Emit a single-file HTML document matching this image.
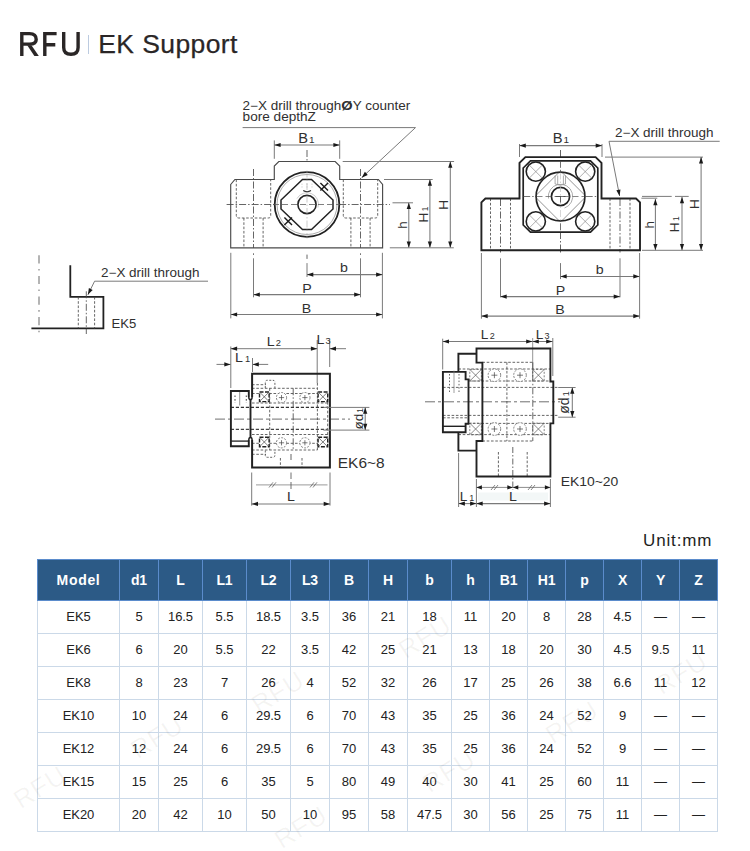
<!DOCTYPE html>
<html><head><meta charset="utf-8"><style>
html,body{margin:0;padding:0;background:#fff;}
body{width:750px;height:851px;position:relative;overflow:hidden;font-family:"Liberation Sans",sans-serif;}
#logo{position:absolute;left:0;top:0;}
#title{position:absolute;left:98.3px;top:27px;font-size:26.5px;letter-spacing:0.4px;color:#2a2626;line-height:34px;white-space:nowrap;-webkit-text-stroke:0.25px #2a2626;}
#draw{position:absolute;left:0;top:0;}
#draw text{font-family:"Liberation Sans",sans-serif;}
#unit{position:absolute;left:643px;top:531px;font-size:17px;color:#1e1e1e;letter-spacing:0.85px;line-height:20px;}
table{position:absolute;left:37px;top:559px;border-collapse:collapse;table-layout:fixed;width:681px;font-size:13px;color:#222;letter-spacing:-0.1px;}
th{background:#2c5a86;color:#fff;font-weight:bold;font-size:14px;height:39px;padding:0 0 1px 0;border:1px solid #5b8ccc;text-align:center;}
td{height:31px;padding:0 0 1px 0;border:1px solid #cbd9e8;text-align:center;}
.wm{position:absolute;width:60px;height:28px;line-height:28px;text-align:center;font-size:26px;color:rgba(90,70,50,0.06);transform:rotate(-32deg);letter-spacing:1px;}
</style></head><body>
<svg id="logo" width="250" height="70" viewBox="0 0 250 70">
<g fill="none" stroke="#2a2626" stroke-width="3.4" stroke-linejoin="miter">
<path d="M21.8,55.9 L21.8,33.6 L29.5,33.6 Q36.2,33.6 36.2,39.5 Q36.2,44.1 29.5,44.1 L22,44.1"/>
<path d="M27.2,45.2 L31.4,45.2 L38.8,55.9 L34.4,55.9 Z" fill="#2a2626" stroke="none"/>
<path d="M56.6,33.6 L44.8,33.6 L44.8,56 M44.8,44.7 L55.3,44.7"/>
<path d="M63.7,31.9 L63.7,47.5 Q63.7,54.3 71,54.3 Q78.1,54.3 78.1,47.5 L78.1,31.9"/>
</g>
<line x1="88.5" y1="35" x2="88.5" y2="54" stroke="#bccbe0" stroke-width="1"/>
</svg>
<div id="title">EK Support</div>
<svg id="draw" width="750" height="530" viewBox="0 0 750 530">
<text x="242.6" y="109.5" font-size="12" text-anchor="start" fill="#303030" textLength="167.7" lengthAdjust="spacingAndGlyphs" >2−X drill through<tspan font-size="13" font-weight="bold">Ø</tspan>Y counter</text>
<text x="242.6" y="120.7" font-size="12" text-anchor="start" fill="#303030" textLength="73.3" lengthAdjust="spacingAndGlyphs" >bore depthZ</text>
<line x1="242.6" y1="127.6" x2="415.5" y2="127.6" stroke="#7a7a7a" stroke-width="1.0"/>
<line x1="415.5" y1="127.6" x2="361.7" y2="177.7" stroke="#7a7a7a" stroke-width="1.0"/>
<path d="M361.7,177.7 L364.88,171.87 L367.74,174.94 Z" fill="#1a1a1a"/>
<line x1="274.3" y1="140.4" x2="274.3" y2="158.8" stroke="#7a7a7a" stroke-width="1.0"/>
<line x1="339.7" y1="140.4" x2="339.7" y2="158.8" stroke="#7a7a7a" stroke-width="1.0"/>
<line x1="274.3" y1="145" x2="339.7" y2="145" stroke="#7a7a7a" stroke-width="1.05"/>
<path d="M274.3,145 L280.6,142.9 L280.6,147.1 Z" fill="#1a1a1a"/>
<path d="M339.7,145 L333.4,147.1 L333.4,142.9 Z" fill="#1a1a1a"/>
<text transform="translate(306.3 142.7) scale(1.05 1)" font-size="14" text-anchor="middle" fill="#303030">B<tspan font-size="9.5" dx="0.9">1</tspan></text>
<path d="M236.3,179.5 L236.3,215.5 Q236.3,218 238.8,218 L268.2,218 Q270.7,218 270.7,215.5 L270.7,179.5" stroke="#4a4a4a" stroke-width="0.85" fill="none" stroke-dasharray="2.6 1.7" />
<line x1="243.9" y1="218" x2="243.9" y2="247.8" stroke="#4a4a4a" stroke-width="0.85" stroke-dasharray="2.6 1.7"/>
<line x1="263.1" y1="218" x2="263.1" y2="247.8" stroke="#4a4a4a" stroke-width="0.85" stroke-dasharray="2.6 1.7"/>
<line x1="253.5" y1="169" x2="253.5" y2="248" stroke="#4a4a4a" stroke-width="0.85" stroke-dasharray="7 2 1.5 2"/>
<line x1="253.5" y1="253.4" x2="253.5" y2="254.8" stroke="#555" stroke-width="1.0"/>
<line x1="253.5" y1="258.3" x2="253.5" y2="297.3" stroke="#7a7a7a" stroke-width="1.0"/>
<path d="M343.3,179.5 L343.3,215.5 Q343.3,218 345.8,218 L375.2,218 Q377.7,218 377.7,215.5 L377.7,179.5" stroke="#4a4a4a" stroke-width="0.85" fill="none" stroke-dasharray="2.6 1.7" />
<line x1="350.9" y1="218" x2="350.9" y2="247.8" stroke="#4a4a4a" stroke-width="0.85" stroke-dasharray="2.6 1.7"/>
<line x1="370.1" y1="218" x2="370.1" y2="247.8" stroke="#4a4a4a" stroke-width="0.85" stroke-dasharray="2.6 1.7"/>
<line x1="360.5" y1="169" x2="360.5" y2="248" stroke="#4a4a4a" stroke-width="0.85" stroke-dasharray="7 2 1.5 2"/>
<line x1="360.5" y1="253.4" x2="360.5" y2="254.8" stroke="#555" stroke-width="1.0"/>
<line x1="360.5" y1="258.3" x2="360.5" y2="297.3" stroke="#7a7a7a" stroke-width="1.0"/>
<line x1="226.6" y1="204.5" x2="390" y2="204.5" stroke="#4a4a4a" stroke-width="0.85" stroke-dasharray="7 2 1.5 2"/>
<line x1="307" y1="150" x2="307" y2="161" stroke="#4a4a4a" stroke-width="0.85" stroke-dasharray="7 2 1.5 2"/>
<line x1="307" y1="254.6" x2="307" y2="258.9" stroke="#666" stroke-width="1.0"/>
<line x1="307" y1="263.1" x2="307" y2="277" stroke="#7a7a7a" stroke-width="1.0"/>
<path d="M230.7,184.5 L234.9,179.5 L274.3,179.5 L274.3,166 L278.8,161.5 L335.2,161.5 L339.7,166 L339.7,179.5 L378.4,179.5 L382.6,184.5 L382.6,247.8 L230.7,247.8 Z" stroke="#4a4a4a" stroke-width="1.15" fill="none" />
<circle cx="307" cy="204.5" r="32.3" stroke="#222" stroke-width="1.8" fill="#fff"/>
<circle cx="307" cy="204.5" r="30.0" stroke="#777" stroke-width="0.6" fill="none"/>
<path d="M302.5,179.5 L311.5,179.5 L333,200.0 L333,209.0 L311.5,229.5 L302.5,229.5 L281,209.0 L281,200.0 Z" stroke="#222" stroke-width="1.5" fill="none" />
<path d="M297,198.5 A11.5,11.5 0 0 1 318,207.5" stroke="#aaa" stroke-width="0.6" fill="none" />
<path d="M303.2,190.5 Q307,193.0 311,190.5" stroke="#333" stroke-width="1.1" fill="none" />
<line x1="302" y1="183.5" x2="302" y2="188.5" stroke="#bbb" stroke-width="0.6" stroke-dasharray="1.5 1.2"/>
<line x1="307" y1="183.5" x2="307" y2="188.5" stroke="#bbb" stroke-width="0.6" stroke-dasharray="1.5 1.2"/>
<line x1="312" y1="183.5" x2="312" y2="188.5" stroke="#bbb" stroke-width="0.6" stroke-dasharray="1.5 1.2"/>
<circle cx="307" cy="204.5" r="9.1" stroke="#222" stroke-width="1.6" fill="none"/>
<line x1="273" y1="204.5" x2="341" y2="204.5" stroke="#555" stroke-width="0.75" stroke-dasharray="6 3"/>
<line x1="307" y1="170.5" x2="307" y2="238.5" stroke="#aaa" stroke-width="0.6" stroke-dasharray="7 2 1.5 2"/>
<line x1="320.4" y1="183" x2="328" y2="190.6" stroke="#1a1a1a" stroke-width="1.4"/>
<line x1="320.4" y1="190.6" x2="328" y2="183" stroke="#1a1a1a" stroke-width="1.4"/>
<line x1="284.4" y1="217.4" x2="292" y2="225" stroke="#1a1a1a" stroke-width="1.4"/>
<line x1="284.4" y1="225" x2="292" y2="217.4" stroke="#1a1a1a" stroke-width="1.4"/>
<line x1="342.7" y1="161.5" x2="454.1" y2="161.5" stroke="#7a7a7a" stroke-width="1.0"/>
<line x1="450.3" y1="161.5" x2="450.3" y2="247.8" stroke="#7a7a7a" stroke-width="1.05"/>
<path d="M450.3,161.5 L452.4,167.8 L448.2,167.8 Z" fill="#1a1a1a"/>
<path d="M450.3,247.8 L448.2,241.5 L452.4,241.5 Z" fill="#1a1a1a"/>
<text transform="translate(447.8 204.9) rotate(-90) scale(1.0 1)" font-size="13.5" text-anchor="middle" fill="#303030" >H</text>
<line x1="384" y1="179.5" x2="432.7" y2="179.5" stroke="#7a7a7a" stroke-width="1.0"/>
<line x1="429.9" y1="179.5" x2="429.9" y2="247.8" stroke="#7a7a7a" stroke-width="1.05"/>
<path d="M429.9,179.5 L432,185.8 L427.8,185.8 Z" fill="#1a1a1a"/>
<path d="M429.9,247.8 L427.8,241.5 L432,241.5 Z" fill="#1a1a1a"/>
<text transform="translate(427.8 214.6) rotate(-90) scale(1.0 1)" font-size="13.5" text-anchor="middle" fill="#303030">H<tspan font-size="8.4" dx="1.5">1</tspan></text>
<line x1="392.5" y1="202.8" x2="413" y2="202.8" stroke="#7a7a7a" stroke-width="1.0"/>
<line x1="408.8" y1="202.8" x2="408.8" y2="247.8" stroke="#7a7a7a" stroke-width="1.05"/>
<path d="M408.8,202.8 L410.9,209.1 L406.7,209.1 Z" fill="#1a1a1a"/>
<path d="M408.8,247.8 L406.7,241.5 L410.9,241.5 Z" fill="#1a1a1a"/>
<text transform="translate(406.8 225) rotate(-90) scale(1.0 1)" font-size="13.5" text-anchor="middle" fill="#303030" >h</text>
<line x1="389.8" y1="247.8" x2="453.8" y2="247.8" stroke="#7a7a7a" stroke-width="1.0"/>
<line x1="230.8" y1="252.8" x2="230.8" y2="318.4" stroke="#7a7a7a" stroke-width="1.0"/>
<line x1="382.4" y1="252.8" x2="382.4" y2="318.4" stroke="#7a7a7a" stroke-width="1.0"/>
<line x1="307" y1="274.6" x2="382.4" y2="274.6" stroke="#7a7a7a" stroke-width="1.05"/>
<path d="M307,274.6 L313.3,272.5 L313.3,276.7 Z" fill="#1a1a1a"/>
<path d="M382.4,274.6 L376.1,276.7 L376.1,272.5 Z" fill="#1a1a1a"/>
<text transform="translate(344 272.2) scale(1.05 1)" font-size="13.5" text-anchor="middle" fill="#303030" >b</text>
<line x1="253.5" y1="294.6" x2="360.5" y2="294.6" stroke="#7a7a7a" stroke-width="1.05"/>
<path d="M253.5,294.6 L259.8,292.5 L259.8,296.7 Z" fill="#1a1a1a"/>
<path d="M360.5,294.6 L354.2,296.7 L354.2,292.5 Z" fill="#1a1a1a"/>
<text transform="translate(307 292.7) scale(1.05 1)" font-size="13.5" text-anchor="middle" fill="#303030" >P</text>
<line x1="230.8" y1="314.5" x2="382.4" y2="314.5" stroke="#7a7a7a" stroke-width="1.05"/>
<path d="M230.8,314.5 L237.1,312.4 L237.1,316.6 Z" fill="#1a1a1a"/>
<path d="M382.4,314.5 L376.1,316.6 L376.1,312.4 Z" fill="#1a1a1a"/>
<text transform="translate(306.4 312.8) scale(1.05 1)" font-size="13.5" text-anchor="middle" fill="#303030" >B</text>
<text x="615" y="137" font-size="12" text-anchor="start" fill="#303030" textLength="98.6" lengthAdjust="spacingAndGlyphs" >2−X drill through</text>
<line x1="609" y1="141.3" x2="719.7" y2="141.3" stroke="#7a7a7a" stroke-width="1.0"/>
<line x1="609" y1="141.3" x2="619.6" y2="196" stroke="#7a7a7a" stroke-width="1.0"/>
<path d="M619.6,196 L616.35,190.21 L620.47,189.42 Z" fill="#1a1a1a"/>
<line x1="519.5" y1="144" x2="519.5" y2="157" stroke="#7a7a7a" stroke-width="1.0"/>
<line x1="602" y1="144" x2="602" y2="157" stroke="#7a7a7a" stroke-width="1.0"/>
<line x1="519.5" y1="145.6" x2="602" y2="145.6" stroke="#7a7a7a" stroke-width="1.05"/>
<path d="M519.5,145.6 L525.8,143.5 L525.8,147.7 Z" fill="#1a1a1a"/>
<path d="M602,145.6 L595.7,147.7 L595.7,143.5 Z" fill="#1a1a1a"/>
<text transform="translate(560.8 142.8) scale(1.05 1)" font-size="14" text-anchor="middle" fill="#303030">B<tspan font-size="9.5" dx="0.9">1</tspan></text>
<line x1="490.5" y1="198.5" x2="490.5" y2="250.3" stroke="#4a4a4a" stroke-width="0.85" stroke-dasharray="2.6 1.7"/>
<line x1="510.5" y1="198.5" x2="510.5" y2="250.3" stroke="#4a4a4a" stroke-width="0.85" stroke-dasharray="2.6 1.7"/>
<line x1="500.5" y1="199" x2="500.5" y2="250" stroke="#4a4a4a" stroke-width="0.85" stroke-dasharray="7 2 1.5 2"/>
<line x1="500.5" y1="251" x2="500.5" y2="252.5" stroke="#666" stroke-width="1.0"/>
<line x1="500.5" y1="258.3" x2="500.5" y2="297.3" stroke="#7a7a7a" stroke-width="1.0"/>
<line x1="610" y1="198.5" x2="610" y2="250.3" stroke="#4a4a4a" stroke-width="0.85" stroke-dasharray="2.6 1.7"/>
<line x1="630" y1="198.5" x2="630" y2="250.3" stroke="#4a4a4a" stroke-width="0.85" stroke-dasharray="2.6 1.7"/>
<line x1="620" y1="199" x2="620" y2="250" stroke="#4a4a4a" stroke-width="0.85" stroke-dasharray="7 2 1.5 2"/>
<line x1="620" y1="251" x2="620" y2="252.5" stroke="#666" stroke-width="1.0"/>
<line x1="620" y1="258.3" x2="620" y2="297.3" stroke="#7a7a7a" stroke-width="1.0"/>
<line x1="560.5" y1="150" x2="560.5" y2="157" stroke="#4a4a4a" stroke-width="0.85" stroke-dasharray="7 2 1.5 2"/>
<line x1="560.5" y1="232" x2="560.5" y2="250" stroke="#4a4a4a" stroke-width="0.85" stroke-dasharray="7 2 1.5 2"/>
<line x1="560.5" y1="251" x2="560.5" y2="252.5" stroke="#666" stroke-width="1.0"/>
<line x1="560.5" y1="263.1" x2="560.5" y2="279.1" stroke="#7a7a7a" stroke-width="1.0"/>
<path d="M481.4,202.4 L485.4,198.5 L519.5,198.5 L519.5,162.9 L525.4,157.1 L595.6,157.1 L601.5,162.9 L601.5,198.5 L636,198.5 L640,202.4 L640,250.3 L481.4,250.3 Z" stroke="#222" stroke-width="1.9" fill="none" />
<path d="M530.5,160.8 L590.5,160.8 L597.8,168 L597.8,225 L590.5,232.2 L530.5,232.2 L523.2,225 L523.2,168 Z" stroke="#222" stroke-width="1.7" fill="none" />
<line x1="523.2" y1="196.5" x2="597.8" y2="196.5" stroke="#444" stroke-width="0.75" stroke-dasharray="7 2 1.5 2"/>
<line x1="560.5" y1="160.8" x2="560.5" y2="232.2" stroke="#444" stroke-width="0.75" stroke-dasharray="7 2 1.5 2"/>
<circle cx="535.8" cy="171.6" r="9.6" stroke="#222" stroke-width="1.6" fill="#fff"/>
<line x1="529.2" y1="165" x2="542.4" y2="178.2" stroke="#777" stroke-width="0.6"/>
<line x1="529.2" y1="178.2" x2="542.4" y2="165" stroke="#777" stroke-width="0.6"/>
<circle cx="535.8" cy="221.4" r="9.6" stroke="#222" stroke-width="1.6" fill="#fff"/>
<line x1="529.2" y1="214.8" x2="542.4" y2="228" stroke="#777" stroke-width="0.6"/>
<line x1="529.2" y1="228" x2="542.4" y2="214.8" stroke="#777" stroke-width="0.6"/>
<circle cx="585.2" cy="171.6" r="9.6" stroke="#222" stroke-width="1.6" fill="#fff"/>
<line x1="578.6" y1="165" x2="591.8" y2="178.2" stroke="#777" stroke-width="0.6"/>
<line x1="578.6" y1="178.2" x2="591.8" y2="165" stroke="#777" stroke-width="0.6"/>
<circle cx="585.2" cy="221.4" r="9.6" stroke="#222" stroke-width="1.6" fill="#fff"/>
<line x1="578.6" y1="214.8" x2="591.8" y2="228" stroke="#777" stroke-width="0.6"/>
<line x1="578.6" y1="228" x2="591.8" y2="214.8" stroke="#777" stroke-width="0.6"/>
<circle cx="560.5" cy="196.5" r="24.4" stroke="#222" stroke-width="1.7" fill="#fff"/>
<clipPath id="cc2"><circle cx="560.5" cy="196.5" r="24"/></clipPath>
<path d="M560.5,170.9 L586.1,196.5 L560.5,222.1 L534.9,196.5 Z" stroke="#666" stroke-width="0.7" fill="none" clip-path="url(#cc2)"/>
<path d="M548.5,198.5 A12.2,12.2 0 1 1 564.5,208.0" stroke="#888" stroke-width="0.7" fill="none" />
<line x1="555.1" y1="175.5" x2="555.1" y2="184" stroke="#888" stroke-width="0.7"/>
<line x1="557.7" y1="175.5" x2="557.7" y2="184" stroke="#888" stroke-width="0.7"/>
<line x1="563.4" y1="175.5" x2="563.4" y2="184" stroke="#888" stroke-width="0.7"/>
<line x1="565.5" y1="175.5" x2="565.5" y2="184" stroke="#888" stroke-width="0.7"/>
<path d="M555.1,184.0 Q560.5,186.5 565.5,184.0" stroke="#888" stroke-width="0.7" fill="none" />
<circle cx="560.5" cy="196.5" r="9.1" stroke="#222" stroke-width="1.7" fill="none"/>
<line x1="536.5" y1="196.5" x2="584.5" y2="196.5" stroke="#555" stroke-width="0.7" stroke-dasharray="6 3"/>
<line x1="560.5" y1="172.5" x2="560.5" y2="220.5" stroke="#bbb" stroke-width="0.6" stroke-dasharray="7 2 1.5 2"/>
<line x1="555.5" y1="196.5" x2="565.5" y2="196.5" stroke="#333" stroke-width="0.7"/>
<line x1="560.5" y1="196.5" x2="560.5" y2="202.5" stroke="#333" stroke-width="0.7"/>
<line x1="605" y1="157.1" x2="703" y2="157.1" stroke="#7a7a7a" stroke-width="1.0"/>
<line x1="701.1" y1="157.1" x2="701.1" y2="250.3" stroke="#7a7a7a" stroke-width="1.05"/>
<path d="M701.1,157.1 L703.2,163.4 L699,163.4 Z" fill="#1a1a1a"/>
<path d="M701.1,250.3 L699,244 L703.2,244 Z" fill="#1a1a1a"/>
<text transform="translate(699 204) rotate(-90) scale(1.0 1)" font-size="13.5" text-anchor="middle" fill="#303030" >H</text>
<line x1="642" y1="196.4" x2="671.7" y2="196.4" stroke="#7a7a7a" stroke-width="1.0"/>
<line x1="675" y1="196.4" x2="688.7" y2="196.4" stroke="#7a7a7a" stroke-width="1.0"/>
<line x1="641.4" y1="198.2" x2="657.3" y2="198.2" stroke="#7a7a7a" stroke-width="1.0"/>
<line x1="682" y1="197" x2="682" y2="250.3" stroke="#7a7a7a" stroke-width="1.05"/>
<path d="M682,197 L684.1,203.3 L679.9,203.3 Z" fill="#1a1a1a"/>
<path d="M682,250.3 L679.9,244 L684.1,244 Z" fill="#1a1a1a"/>
<text transform="translate(678.7 224.2) rotate(-90) scale(1.0 1)" font-size="13.5" text-anchor="middle" fill="#303030">H<tspan font-size="8.4" dx="1.5">1</tspan></text>
<line x1="655.4" y1="198.9" x2="655.4" y2="250.3" stroke="#7a7a7a" stroke-width="1.05"/>
<path d="M655.4,198.9 L657.5,205.2 L653.3,205.2 Z" fill="#1a1a1a"/>
<path d="M655.4,250.3 L653.3,244 L657.5,244 Z" fill="#1a1a1a"/>
<text transform="translate(654 224.8) rotate(-90) scale(1.0 1)" font-size="13.5" text-anchor="middle" fill="#303030" >h</text>
<line x1="642" y1="250.3" x2="703" y2="250.3" stroke="#7a7a7a" stroke-width="1.0"/>
<line x1="481.4" y1="253" x2="481.4" y2="318.7" stroke="#7a7a7a" stroke-width="1.0"/>
<line x1="639.6" y1="253" x2="639.6" y2="318.7" stroke="#7a7a7a" stroke-width="1.0"/>
<line x1="560.4" y1="276.4" x2="639.6" y2="276.4" stroke="#7a7a7a" stroke-width="1.05"/>
<path d="M560.4,276.4 L566.7,274.3 L566.7,278.5 Z" fill="#1a1a1a"/>
<path d="M639.6,276.4 L633.3,278.5 L633.3,274.3 Z" fill="#1a1a1a"/>
<text transform="translate(599.7 273.6) scale(1.05 1)" font-size="13.5" text-anchor="middle" fill="#303030" >b</text>
<line x1="500.4" y1="296.6" x2="620" y2="296.6" stroke="#7a7a7a" stroke-width="1.05"/>
<path d="M500.4,296.6 L506.7,294.5 L506.7,298.7 Z" fill="#1a1a1a"/>
<path d="M620,296.6 L613.7,298.7 L613.7,294.5 Z" fill="#1a1a1a"/>
<text transform="translate(560.4 294.6) scale(1.05 1)" font-size="13.5" text-anchor="middle" fill="#303030" >P</text>
<line x1="481.4" y1="316.1" x2="639.6" y2="316.1" stroke="#7a7a7a" stroke-width="1.05"/>
<path d="M481.4,316.1 L487.7,314 L487.7,318.2 Z" fill="#1a1a1a"/>
<path d="M639.6,316.1 L633.3,318.2 L633.3,314 Z" fill="#1a1a1a"/>
<text transform="translate(560 314.4) scale(1.05 1)" font-size="13.5" text-anchor="middle" fill="#303030" >B</text>
<line x1="39" y1="255.3" x2="39" y2="333.5" stroke="#777" stroke-width="1.1" stroke-dasharray="8.2 5.4 1.6 5.4"/>
<path d="M70.3,265.2 L70.3,296.9 L103.4,296.9 L103.4,328.4 L31.4,328.4" stroke="#222" stroke-width="1.8" fill="none" />
<line x1="78.3" y1="296.9" x2="78.3" y2="328.4" stroke="#4a4a4a" stroke-width="0.85" stroke-dasharray="2.6 1.7"/>
<line x1="94.6" y1="296.9" x2="94.6" y2="328.4" stroke="#4a4a4a" stroke-width="0.85" stroke-dasharray="2.6 1.7"/>
<line x1="86.3" y1="291.3" x2="86.3" y2="334" stroke="#4a4a4a" stroke-width="0.85" stroke-dasharray="7 2 1.5 2"/>
<line x1="94.6" y1="281.2" x2="208" y2="281.2" stroke="#7a7a7a" stroke-width="1.0"/>
<line x1="94.6" y1="281.2" x2="87.9" y2="294.8" stroke="#7a7a7a" stroke-width="1.0"/>
<path d="M87.9,294.8 L88.89,288.04 L92.66,289.9 Z" fill="#1a1a1a"/>
<text x="101" y="277.2" font-size="12" text-anchor="start" fill="#303030" textLength="98.6" lengthAdjust="spacingAndGlyphs" >2−X drill through</text>
<text x="111.4" y="327.9" font-size="12.3" text-anchor="start" fill="#303030" textLength="24.8" lengthAdjust="spacingAndGlyphs" >EK5</text>
<line x1="230.8" y1="346.5" x2="230.8" y2="388" stroke="#7a7a7a" stroke-width="1.0"/>
<line x1="317.2" y1="340" x2="317.2" y2="383" stroke="#7a7a7a" stroke-width="1.0"/>
<line x1="329.7" y1="340" x2="329.7" y2="367" stroke="#7a7a7a" stroke-width="1.0"/>
<line x1="230.8" y1="348.7" x2="317.2" y2="348.7" stroke="#7a7a7a" stroke-width="1.0"/>
<path d="M230.8,348.7 L237.1,346.6 L237.1,350.8 Z" fill="#1a1a1a"/>
<path d="M317.2,348.7 L310.9,350.8 L310.9,346.6 Z" fill="#1a1a1a"/>
<line x1="329.7" y1="348.7" x2="346" y2="348.7" stroke="#7a7a7a" stroke-width="1.0"/>
<path d="M329.7,348.7 L336,346.6 L336,350.8 Z" fill="#1a1a1a"/>
<text transform="translate(273.8 345.7) scale(1.05 1)" font-size="13.5" text-anchor="middle" fill="#303030">L<tspan font-size="8.9" dx="1.2">2</tspan></text>
<text transform="translate(323.6 344.4) scale(1.05 1)" font-size="13.5" text-anchor="middle" fill="#303030">L<tspan font-size="8.9" dx="1.2">3</tspan></text>
<line x1="216.5" y1="364.4" x2="230.6" y2="364.4" stroke="#7a7a7a" stroke-width="1.0"/>
<path d="M230.6,364.4 L224.3,366.5 L224.3,362.3 Z" fill="#1a1a1a"/>
<line x1="252.5" y1="364.4" x2="268.2" y2="364.4" stroke="#7a7a7a" stroke-width="1.0"/>
<path d="M252.5,364.4 L258.8,362.3 L258.8,366.5 Z" fill="#1a1a1a"/>
<line x1="252.5" y1="358" x2="252.5" y2="372" stroke="#7a7a7a" stroke-width="1.0"/>
<text transform="translate(242.6 362) scale(1.05 1)" font-size="13.5" text-anchor="middle" fill="#303030">L<tspan font-size="8.9" dx="2.2">1</tspan></text>
<line x1="252" y1="384.7" x2="266" y2="384.7" stroke="#4a4a4a" stroke-width="0.85" stroke-dasharray="2.6 1.7"/>
<line x1="252" y1="388.3" x2="317.4" y2="388.3" stroke="#4a4a4a" stroke-width="0.85" stroke-dasharray="2.6 1.7"/>
<line x1="252" y1="393.5" x2="327.7" y2="393.5" stroke="#4a4a4a" stroke-width="0.85" stroke-dasharray="2.6 1.7"/>
<line x1="252" y1="403" x2="327.7" y2="403" stroke="#4a4a4a" stroke-width="0.85" stroke-dasharray="2.6 1.7"/>
<line x1="230.8" y1="407.4" x2="327.7" y2="407.4" stroke="#333" stroke-width="1.2" stroke-dasharray="3.2 1.8"/>
<line x1="215" y1="419.1" x2="350" y2="419.1" stroke="#555" stroke-width="0.85" stroke-dasharray="10 3 3 3"/>
<line x1="230.8" y1="429.4" x2="327.7" y2="429.4" stroke="#444" stroke-width="1.2" stroke-dasharray="3.2 1.8"/>
<line x1="252" y1="434.5" x2="327.7" y2="434.5" stroke="#4a4a4a" stroke-width="0.85" stroke-dasharray="2.6 1.7"/>
<line x1="252" y1="443.3" x2="327.7" y2="443.3" stroke="#4a4a4a" stroke-width="0.85" stroke-dasharray="2.6 1.7"/>
<line x1="252" y1="450" x2="317.4" y2="450" stroke="#4a4a4a" stroke-width="0.85" stroke-dasharray="2.6 1.7"/>
<line x1="252" y1="454.3" x2="266" y2="454.3" stroke="#4a4a4a" stroke-width="0.85" stroke-dasharray="2.6 1.7"/>
<line x1="269.7" y1="388.3" x2="269.7" y2="450" stroke="#4a4a4a" stroke-width="0.85" stroke-dasharray="2.6 1.7"/>
<line x1="293.2" y1="388.3" x2="293.2" y2="450" stroke="#4a4a4a" stroke-width="0.85" stroke-dasharray="7 2 1.5 2"/>
<line x1="317.4" y1="383" x2="317.4" y2="450" stroke="#4a4a4a" stroke-width="0.85" stroke-dasharray="2.6 1.7"/>
<line x1="327.7" y1="393.5" x2="327.7" y2="443.3" stroke="#4a4a4a" stroke-width="0.85" stroke-dasharray="2.6 1.7"/>
<path d="M265.3,388 L265.3,382.3 Q265.3,380.3 267.3,380.3 L272.9,380.3 Q274.9,380.3 274.9,382.3 L274.9,388" stroke="#4a4a4a" stroke-width="0.85" fill="none" stroke-dasharray="2 1.5" />
<path d="M265.3,450.5 L265.3,455.3 Q265.3,457.3 267.3,457.3 L272.9,457.3 Q274.9,457.3 274.9,455.3 L274.9,450.5" stroke="#4a4a4a" stroke-width="0.85" fill="none" stroke-dasharray="2 1.5" />
<rect x="259.5" y="392" width="9.6" height="9.6" fill="#fff" stroke="#222" stroke-width="1.4" stroke-dasharray="4 1.5"/>
<line x1="260.3" y1="392.8" x2="268.3" y2="400.8" stroke="#444" stroke-width="0.7"/>
<line x1="260.3" y1="400.8" x2="268.3" y2="392.8" stroke="#444" stroke-width="0.7"/>
<rect x="318.1" y="392" width="9.6" height="9.6" fill="#fff" stroke="#222" stroke-width="1.4" stroke-dasharray="4 1.5"/>
<line x1="318.9" y1="392.8" x2="326.9" y2="400.8" stroke="#444" stroke-width="0.7"/>
<line x1="318.9" y1="400.8" x2="326.9" y2="392.8" stroke="#444" stroke-width="0.7"/>
<circle cx="281.5" cy="397.6" r="5.1" stroke="#666" stroke-width="0.8" fill="#fff" stroke-dasharray="2 1.3"/>
<line x1="278.9" y1="397.6" x2="284.1" y2="397.6" stroke="#444" stroke-width="0.7"/>
<line x1="281.5" y1="395" x2="281.5" y2="400.2" stroke="#444" stroke-width="0.7"/>
<circle cx="304.9" cy="397.6" r="5.1" stroke="#666" stroke-width="0.8" fill="#fff" stroke-dasharray="2 1.3"/>
<line x1="302.3" y1="397.6" x2="307.5" y2="397.6" stroke="#444" stroke-width="0.7"/>
<line x1="304.9" y1="395" x2="304.9" y2="400.2" stroke="#444" stroke-width="0.7"/>
<rect x="259.5" y="437.2" width="9.6" height="9.6" fill="#fff" stroke="#222" stroke-width="1.4" stroke-dasharray="4 1.5"/>
<line x1="260.3" y1="438" x2="268.3" y2="446" stroke="#444" stroke-width="0.7"/>
<line x1="260.3" y1="446" x2="268.3" y2="438" stroke="#444" stroke-width="0.7"/>
<rect x="318.1" y="437.2" width="9.6" height="9.6" fill="#fff" stroke="#222" stroke-width="1.4" stroke-dasharray="4 1.5"/>
<line x1="318.9" y1="438" x2="326.9" y2="446" stroke="#444" stroke-width="0.7"/>
<line x1="318.9" y1="446" x2="326.9" y2="438" stroke="#444" stroke-width="0.7"/>
<circle cx="281.5" cy="442.8" r="5.1" stroke="#666" stroke-width="0.8" fill="#fff" stroke-dasharray="2 1.3"/>
<line x1="278.9" y1="442.8" x2="284.1" y2="442.8" stroke="#444" stroke-width="0.7"/>
<line x1="281.5" y1="440.2" x2="281.5" y2="445.4" stroke="#444" stroke-width="0.7"/>
<circle cx="304.9" cy="442.8" r="5.1" stroke="#666" stroke-width="0.8" fill="#fff" stroke-dasharray="2 1.3"/>
<line x1="302.3" y1="442.8" x2="307.5" y2="442.8" stroke="#444" stroke-width="0.7"/>
<line x1="304.9" y1="440.2" x2="304.9" y2="445.4" stroke="#444" stroke-width="0.7"/>
<line x1="280.4" y1="458" x2="280.4" y2="467" stroke="#4a4a4a" stroke-width="0.85" stroke-dasharray="2.6 1.7"/>
<line x1="302" y1="458" x2="302" y2="467" stroke="#4a4a4a" stroke-width="0.85" stroke-dasharray="2.6 1.7"/>
<line x1="291" y1="454" x2="291" y2="460" stroke="#4a4a4a" stroke-width="0.85"/>
<path d="M252.1,397 L252.1,373.8 L329.9,373.8 L329.9,467.6 L252.1,467.6 L252.1,440" stroke="#222" stroke-width="2.0" fill="none" />
<path d="M248.8,397 L248.8,391 L230.9,391 L230.9,446.3 L248.8,446.3 L248.8,440" stroke="#222" stroke-width="1.9" fill="none" />
<path d="M248.8,397 Q248.8,399.6 250.5,399.6 Q252.1,399.6 252.1,397" stroke="#222" stroke-width="1.5" fill="none" />
<path d="M248.8,440 Q248.8,437.4 250.5,437.4 Q252.1,437.4 252.1,440" stroke="#222" stroke-width="1.5" fill="none" />
<line x1="250.5" y1="399.6" x2="250.5" y2="437.4" stroke="#222" stroke-width="1.9"/>
<line x1="230.9" y1="441.1" x2="248.6" y2="441.1" stroke="#222" stroke-width="1.3"/>
<line x1="239.7" y1="392" x2="239.7" y2="405.5" stroke="#666" stroke-width="0.7"/>
<line x1="235" y1="395.5" x2="235" y2="403" stroke="#555" stroke-width="1.1" stroke-dasharray="1.6 2"/>
<line x1="246.3" y1="395.5" x2="246.3" y2="403" stroke="#555" stroke-width="1.1" stroke-dasharray="1.6 2"/>
<line x1="323.4" y1="407.4" x2="369.4" y2="407.4" stroke="#7a7a7a" stroke-width="1.0"/>
<line x1="323.4" y1="430.1" x2="369.4" y2="430.1" stroke="#7a7a7a" stroke-width="1.0"/>
<line x1="365.2" y1="407.4" x2="365.2" y2="430.1" stroke="#7a7a7a" stroke-width="1.05"/>
<path d="M365.2,407.4 L367.3,413.7 L363.1,413.7 Z" fill="#1a1a1a"/>
<path d="M365.2,430.1 L363.1,423.8 L367.3,423.8 Z" fill="#1a1a1a"/>
<text transform="translate(363.2 418.8) rotate(-90) scale(1.0 1)" font-size="13.5" text-anchor="middle" fill="#303030">ød<tspan font-size="8.4" dx="1.0">1</tspan></text>
<line x1="251.7" y1="472.5" x2="251.7" y2="505.6" stroke="#7a7a7a" stroke-width="1.0"/>
<line x1="330" y1="472.5" x2="330" y2="505.6" stroke="#7a7a7a" stroke-width="1.0"/>
<line x1="256" y1="484.9" x2="327.5" y2="484.9" stroke="#888" stroke-width="0.85"/>
<line x1="269" y1="487.5" x2="273" y2="482.3" stroke="#555" stroke-width="0.7"/>
<line x1="272" y1="487.5" x2="276" y2="482.3" stroke="#555" stroke-width="0.7"/>
<line x1="310" y1="487.5" x2="314" y2="482.3" stroke="#555" stroke-width="0.7"/>
<line x1="313" y1="487.5" x2="317" y2="482.3" stroke="#555" stroke-width="0.7"/>
<line x1="291" y1="472.5" x2="291" y2="479" stroke="#555" stroke-width="0.85"/>
<line x1="291" y1="482" x2="291" y2="489" stroke="#555" stroke-width="0.85"/>
<line x1="251.7" y1="503.9" x2="330" y2="503.9" stroke="#7a7a7a" stroke-width="1.05"/>
<path d="M251.7,503.9 L258,501.8 L258,506 Z" fill="#1a1a1a"/>
<path d="M330,503.9 L323.7,506 L323.7,501.8 Z" fill="#1a1a1a"/>
<text transform="translate(291 500.8) scale(1.05 1)" font-size="13.5" text-anchor="middle" fill="#303030" >L</text>
<text x="337.8" y="467.5" font-size="15" text-anchor="start" fill="#303030" textLength="46.8" lengthAdjust="spacingAndGlyphs" >EK6~8</text>
<line x1="442.7" y1="338.7" x2="442.7" y2="369.5" stroke="#7a7a7a" stroke-width="1.0"/>
<line x1="532.7" y1="338" x2="532.7" y2="376" stroke="#777" stroke-width="0.8"/>
<line x1="552.8" y1="338" x2="552.8" y2="376" stroke="#7a7a7a" stroke-width="1.0"/>
<line x1="442.7" y1="341.5" x2="552.8" y2="341.5" stroke="#7a7a7a" stroke-width="1.0"/>
<path d="M442.7,341.5 L449,339.4 L449,343.6 Z" fill="#1a1a1a"/>
<path d="M532.5,341.5 L526.2,343.6 L526.2,339.4 Z" fill="#1a1a1a"/>
<path d="M532.5,341.5 L538.8,339.4 L538.8,343.6 Z" fill="#1a1a1a"/>
<path d="M552.5,341.5 L546.2,343.6 L546.2,339.4 Z" fill="#1a1a1a"/>
<text transform="translate(487.8 338.9) scale(1.05 1)" font-size="13" text-anchor="middle" fill="#303030">L<tspan font-size="8.6" dx="1.2">2</tspan></text>
<text transform="translate(542.7 338.9) scale(1.05 1)" font-size="13" text-anchor="middle" fill="#303030">L<tspan font-size="8.6" dx="1.2">3</tspan></text>
<line x1="482.4" y1="362.3" x2="532.8" y2="362.3" stroke="#4a4a4a" stroke-width="0.85" stroke-dasharray="2.6 1.7"/>
<line x1="458.4" y1="369" x2="550.4" y2="369" stroke="#4a4a4a" stroke-width="0.85" stroke-dasharray="2.6 1.7"/>
<line x1="468.5" y1="381" x2="550.4" y2="381" stroke="#4a4a4a" stroke-width="0.85" stroke-dasharray="2.6 1.7"/>
<line x1="443" y1="387.4" x2="558" y2="387.4" stroke="#4a4a4a" stroke-width="0.85" stroke-dasharray="2.6 1.7"/>
<line x1="425" y1="401.8" x2="560" y2="401.8" stroke="#555" stroke-width="0.85" stroke-dasharray="10 3 3 3"/>
<line x1="443" y1="415.4" x2="558" y2="415.4" stroke="#4a4a4a" stroke-width="0.85" stroke-dasharray="2.6 1.7"/>
<line x1="443" y1="417.8" x2="468" y2="417.8" stroke="#4a4a4a" stroke-width="0.85" stroke-dasharray="2.6 1.7"/>
<line x1="468.5" y1="423.4" x2="550.4" y2="423.4" stroke="#4a4a4a" stroke-width="0.85" stroke-dasharray="2.6 1.7"/>
<line x1="458.4" y1="434.6" x2="550.4" y2="434.6" stroke="#4a4a4a" stroke-width="0.85" stroke-dasharray="2.6 1.7"/>
<line x1="482.4" y1="441" x2="532.8" y2="441" stroke="#4a4a4a" stroke-width="0.85" stroke-dasharray="2.6 1.7"/>
<line x1="506.9" y1="362.3" x2="506.9" y2="441" stroke="#4a4a4a" stroke-width="0.85" stroke-dasharray="2.6 1.7"/>
<line x1="532.8" y1="362.3" x2="532.8" y2="441" stroke="#4a4a4a" stroke-width="0.85" stroke-dasharray="7 2 1.5 2"/>
<rect x="469.8" y="369.4" width="11.6" height="11.6" fill="none" stroke="#666" stroke-width="0.8" stroke-dasharray="2 1.5"/>
<line x1="470.1" y1="369.7" x2="481.1" y2="380.7" stroke="#555" stroke-width="0.7"/>
<line x1="470.1" y1="380.7" x2="481.1" y2="369.7" stroke="#555" stroke-width="0.7"/>
<rect x="532.6" y="369.4" width="11.6" height="11.6" fill="none" stroke="#666" stroke-width="0.8" stroke-dasharray="2 1.5"/>
<line x1="532.9" y1="369.7" x2="543.9" y2="380.7" stroke="#555" stroke-width="0.7"/>
<line x1="532.9" y1="380.7" x2="543.9" y2="369.7" stroke="#555" stroke-width="0.7"/>
<circle cx="494.4" cy="375.2" r="6.3" stroke="#666" stroke-width="0.8" fill="#fff" stroke-dasharray="2 1.3"/>
<line x1="491.4" y1="375.2" x2="497.4" y2="375.2" stroke="#444" stroke-width="0.7"/>
<line x1="494.4" y1="372.2" x2="494.4" y2="378.2" stroke="#444" stroke-width="0.7"/>
<circle cx="520" cy="375.2" r="6.3" stroke="#666" stroke-width="0.8" fill="#fff" stroke-dasharray="2 1.3"/>
<line x1="517" y1="375.2" x2="523" y2="375.2" stroke="#444" stroke-width="0.7"/>
<line x1="520" y1="372.2" x2="520" y2="378.2" stroke="#444" stroke-width="0.7"/>
<rect x="469.8" y="423.2" width="11.6" height="11.6" fill="none" stroke="#666" stroke-width="0.8" stroke-dasharray="2 1.5"/>
<line x1="470.1" y1="423.5" x2="481.1" y2="434.5" stroke="#555" stroke-width="0.7"/>
<line x1="470.1" y1="434.5" x2="481.1" y2="423.5" stroke="#555" stroke-width="0.7"/>
<rect x="532.6" y="423.2" width="11.6" height="11.6" fill="none" stroke="#666" stroke-width="0.8" stroke-dasharray="2 1.5"/>
<line x1="532.9" y1="423.5" x2="543.9" y2="434.5" stroke="#555" stroke-width="0.7"/>
<line x1="532.9" y1="434.5" x2="543.9" y2="423.5" stroke="#555" stroke-width="0.7"/>
<circle cx="494.4" cy="429" r="6.3" stroke="#666" stroke-width="0.8" fill="#fff" stroke-dasharray="2 1.3"/>
<line x1="491.4" y1="429" x2="497.4" y2="429" stroke="#444" stroke-width="0.7"/>
<line x1="494.4" y1="426" x2="494.4" y2="432" stroke="#444" stroke-width="0.7"/>
<circle cx="520" cy="429" r="6.3" stroke="#666" stroke-width="0.8" fill="#fff" stroke-dasharray="2 1.3"/>
<line x1="517" y1="429" x2="523" y2="429" stroke="#444" stroke-width="0.7"/>
<line x1="520" y1="426" x2="520" y2="432" stroke="#444" stroke-width="0.7"/>
<line x1="498.4" y1="452" x2="498.4" y2="476" stroke="#4a4a4a" stroke-width="0.85" stroke-dasharray="2.6 1.7"/>
<line x1="527.2" y1="452" x2="527.2" y2="476" stroke="#4a4a4a" stroke-width="0.85" stroke-dasharray="2.6 1.7"/>
<line x1="512.8" y1="447" x2="512.8" y2="490" stroke="#4a4a4a" stroke-width="0.85" stroke-dasharray="6 2 1.5 2"/>
<path d="M476.5,362.6 L476.5,348.5 L550.4,348.5 L550.4,381.5 L553.3,381.5 L553.3,423.4 L550.4,423.4 L550.4,476.5 L476.5,476.5 L476.5,441 L482.4,441 L482.4,362.6 Z" stroke="#222" stroke-width="1.9" fill="none" />
<path d="M476.5,353.8 L458.4,353.8 L458.4,372 M458.4,432 L458.4,450.6 L476.5,450.6" stroke="#222" stroke-width="1.9" fill="none" />
<path d="M442.9,371.9 L465.6,371.9 L465.6,379.4 L468.5,379.4 L468.5,423.7 L465.6,423.7 L465.6,432.2 L442.9,432.2 Z" stroke="#222" stroke-width="1.9" fill="none" />
<line x1="442.9" y1="426.3" x2="465.6" y2="426.3" stroke="#222" stroke-width="1.4"/>
<line x1="449.5" y1="374" x2="449.5" y2="392" stroke="#666" stroke-width="1.0" stroke-dasharray="1.5 1.8"/>
<line x1="459" y1="374" x2="459" y2="392" stroke="#666" stroke-width="1.0" stroke-dasharray="1.5 1.8"/>
<line x1="454" y1="370.6" x2="454" y2="393" stroke="#777" stroke-width="0.7"/>
<line x1="558.2" y1="387.5" x2="575.6" y2="387.5" stroke="#7a7a7a" stroke-width="1.0"/>
<line x1="558.2" y1="417.2" x2="575.6" y2="417.2" stroke="#7a7a7a" stroke-width="1.0"/>
<line x1="572.3" y1="387.5" x2="572.3" y2="417.2" stroke="#7a7a7a" stroke-width="1.05"/>
<path d="M572.3,387.5 L574.4,393.8 L570.2,393.8 Z" fill="#1a1a1a"/>
<path d="M572.3,417.2 L570.2,410.9 L574.4,410.9 Z" fill="#1a1a1a"/>
<text transform="translate(569 402.6) rotate(-90) scale(1.0 1)" font-size="14" text-anchor="middle" fill="#303030">ød<tspan font-size="8.7" dx="1.0">1</tspan></text>
<line x1="458.6" y1="453" x2="458.6" y2="507" stroke="#7a7a7a" stroke-width="1.0"/>
<line x1="476.4" y1="479" x2="476.4" y2="507" stroke="#7a7a7a" stroke-width="1.0"/>
<line x1="550.4" y1="479" x2="550.4" y2="507" stroke="#7a7a7a" stroke-width="1.0"/>
<line x1="476.4" y1="487.4" x2="550.4" y2="487.4" stroke="#777" stroke-width="0.85"/>
<path d="M476.4,487.4 L481.9,485.3 L481.9,489.5 Z" fill="#1a1a1a"/>
<path d="M550.4,487.4 L544.9,489.5 L544.9,485.3 Z" fill="#1a1a1a"/>
<path d="M512.8,487.4 L507.3,489.5 L507.3,485.3 Z" fill="#1a1a1a"/>
<path d="M512.8,487.4 L518.3,485.3 L518.3,489.5 Z" fill="#1a1a1a"/>
<line x1="491" y1="490" x2="495" y2="485" stroke="#555" stroke-width="0.7"/>
<line x1="494" y1="490" x2="498" y2="485" stroke="#555" stroke-width="0.7"/>
<line x1="528" y1="490" x2="532" y2="485" stroke="#555" stroke-width="0.7"/>
<line x1="531" y1="490" x2="535" y2="485" stroke="#555" stroke-width="0.7"/>
<rect x="478" y="492.5" width="70" height="8" fill="#f3f7f7"/>
<line x1="476.4" y1="503.6" x2="550.4" y2="503.6" stroke="#7a7a7a" stroke-width="1.05"/>
<path d="M476.4,503.6 L482.7,501.5 L482.7,505.7 Z" fill="#1a1a1a"/>
<path d="M550.4,503.6 L544.1,505.7 L544.1,501.5 Z" fill="#1a1a1a"/>
<text transform="translate(513 501.4) scale(1.05 1)" font-size="13.5" text-anchor="middle" fill="#303030" >L</text>
<line x1="458.6" y1="503.6" x2="476.4" y2="503.6" stroke="#7a7a7a" stroke-width="1.05"/>
<path d="M458.6,503.6 L464.9,501.5 L464.9,505.7 Z" fill="#1a1a1a"/>
<path d="M476.4,503.6 L470.1,505.7 L470.1,501.5 Z" fill="#1a1a1a"/>
<text transform="translate(467 501.4) scale(1.05 1)" font-size="13" text-anchor="middle" fill="#303030">L<tspan font-size="8.6" dx="1.8">1</tspan></text>
<text x="560.7" y="486" font-size="12.6" text-anchor="start" fill="#303030" textLength="57.6" lengthAdjust="spacingAndGlyphs" >EK10~20</text>
</svg>
<div id="unit">Unit:mm</div>
<table><colgroup><col style="width:82px"><col style="width:39px"><col style="width:44px"><col style="width:44px"><col style="width:44px"><col style="width:39px"><col style="width:39px"><col style="width:39px"><col style="width:44px"><col style="width:38px"><col style="width:38px"><col style="width:38px"><col style="width:38px"><col style="width:38px"><col style="width:38px"><col style="width:38px"></colgroup><thead><tr><th style="letter-spacing:0.7px">Model</th><th>d1</th><th>L</th><th>L1</th><th>L2</th><th>L3</th><th>B</th><th>H</th><th>b</th><th>h</th><th>B1</th><th>H1</th><th>p</th><th>X</th><th>Y</th><th>Z</th></tr></thead><tbody><tr><td>EK5</td><td>5</td><td>16.5</td><td>5.5</td><td>18.5</td><td>3.5</td><td>36</td><td>21</td><td>18</td><td>11</td><td>20</td><td>8</td><td>28</td><td>4.5</td><td>—</td><td>—</td></tr><tr><td>EK6</td><td>6</td><td>20</td><td>5.5</td><td>22</td><td>3.5</td><td>42</td><td>25</td><td>21</td><td>13</td><td>18</td><td>20</td><td>30</td><td>4.5</td><td>9.5</td><td>11</td></tr><tr><td>EK8</td><td>8</td><td>23</td><td>7</td><td>26</td><td>4</td><td>52</td><td>32</td><td>26</td><td>17</td><td>25</td><td>26</td><td>38</td><td>6.6</td><td>11</td><td>12</td></tr><tr><td>EK10</td><td>10</td><td>24</td><td>6</td><td>29.5</td><td>6</td><td>70</td><td>43</td><td>35</td><td>25</td><td>36</td><td>24</td><td>52</td><td>9</td><td>—</td><td>—</td></tr><tr><td>EK12</td><td>12</td><td>24</td><td>6</td><td>29.5</td><td>6</td><td>70</td><td>43</td><td>35</td><td>25</td><td>36</td><td>24</td><td>52</td><td>9</td><td>—</td><td>—</td></tr><tr><td>EK15</td><td>15</td><td>25</td><td>6</td><td>35</td><td>5</td><td>80</td><td>49</td><td>40</td><td>30</td><td>41</td><td>25</td><td>60</td><td>11</td><td>—</td><td>—</td></tr><tr><td>EK20</td><td>20</td><td>42</td><td>10</td><td>50</td><td>10</td><td>95</td><td>58</td><td>47.5</td><td>30</td><td>56</td><td>25</td><td>75</td><td>11</td><td>—</td><td>—</td></tr></tbody></table>
<div class="wm" style="left:10px;top:773px">RFU</div><div class="wm" style="left:127px;top:723px">RFU</div><div class="wm" style="left:248px;top:678px">RFU</div><div class="wm" style="left:271px;top:813px">RFU</div><div class="wm" style="left:395px;top:623px">RFU</div><div class="wm" style="left:419px;top:757px">RFU</div><div class="wm" style="left:542px;top:708px">RFU</div><div class="wm" style="left:651px;top:659px">RFU</div>
</body></html>
